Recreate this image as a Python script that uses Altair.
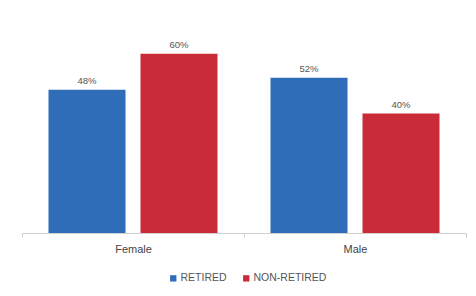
import altair as alt
import pandas as pd

genders = ["Female", "Female", "Male", "Male"]
groups = ["RETIRED", "NON-RETIRED", "RETIRED", "NON-RETIRED"]
values = [48, 60, 52, 40]
labels = ["48%", "60%", "52%", "40%"]

df = pd.DataFrame({"gender": genders, "group": groups, "value": values, "label": labels})

x = alt.X("gender:N", title=None, sort=["Female", "Male"],
          scale=alt.Scale(paddingInner=0, paddingOuter=0),
          axis=alt.Axis(labelAngle=0, labelFontSize=11, labelColor="#444444", labelPadding=6,
                        domainColor="#d0d0d0", tickColor="#d0d0d0", tickSize=4,
                        tickBand="extent", labelFont="Liberation Sans"))
xo = alt.XOffset("group:N", sort=["RETIRED", "NON-RETIRED"],
                 scale=alt.Scale(paddingInner=0.163, paddingOuter=0.288))
y = alt.Y("value:Q", scale=alt.Scale(domain=[0, 70]), axis=None)
color = alt.Color("group:N", sort=["RETIRED", "NON-RETIRED"],
                  scale=alt.Scale(domain=["RETIRED", "NON-RETIRED"], range=["#2F6DB9", "#C92B38"]),
                  legend=alt.Legend(title=None, orient="none", direction="horizontal",
                                    legendX=146, legendY=249, symbolType="square",
                                    symbolSize=40, labelFontSize=10.5, labelColor="#555555",
                                    labelOffset=2,
                                    labelFont="Liberation Sans", columnPadding=14, symbolOffset=0))

bars = alt.Chart(df).mark_bar().encode(x=x, xOffset=xo, y=y, color=color)
text = alt.Chart(df).mark_text(dy=-9, fontSize=9.5, color="#555555", font="Liberation Sans").encode(
    x=x, xOffset=xo, y=y, text="label:N")

chart = alt.layer(bars, text).properties(
    width=444, height=209,
    autosize=alt.AutoSizeParams(type="none"),
    padding={"left": 14, "top": 16, "right": 2, "bottom": 55},
).configure_view(stroke=None)

chart.save("out.html", embed_options={"renderer": "svg", "actions": False})
